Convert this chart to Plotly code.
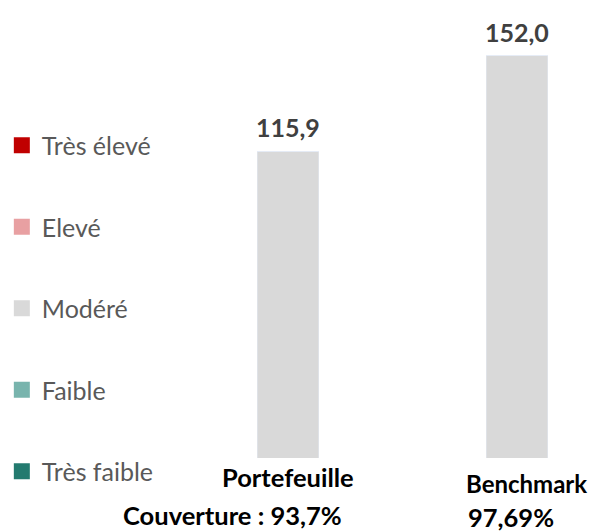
import plotly.graph_objects as go

categories = ["Portefeuille", "Benchmark"]
coverage_labels = ["Couverture : 93,7%", "97,69%"]
levels = ["Très faible", "Faible", "Modéré", "Elevé", "Très élevé"]
level_colors = ["#237A6F", "#78B4AD", "#D9D9D9", "#E8A0A2", "#C00000"]
values = {
    "Très faible": [0, 0],
    "Faible": [0, 0],
    "Modéré": [115.9, 152.0],
    "Elevé": [0, 0],
    "Très élevé": [0, 0],
}
totals = [sum(values[l][i] for l in levels) for i in range(len(categories))]

FONT = "Lato"
fig = go.Figure()
for lvl, col in zip(levels, level_colors):
    fig.add_trace(go.Bar(
        x=categories, y=values[lvl], name=lvl, marker_color=col,
        width=0.27, showlegend=False, hoverinfo="skip",
    ))
# legend entries (top = Très élevé)
for lvl, col in reversed(list(zip(levels, level_colors))):
    fig.add_trace(go.Scatter(
        x=[None], y=[None], mode="markers", name=lvl, legendgroup=lvl,
        marker=dict(symbol="square", size=16, color=col),
    ))

for i, (cat, tot) in enumerate(zip(categories, totals)):
    fig.add_annotation(x=cat, y=tot, xref="x", yref="y", yanchor="bottom",
                       yshift=7, showarrow=False,
                       text="<b>" + f"{tot:.1f}".replace(".", ",") + "</b>",
                       font=dict(family=FONT, size=25, color="#404040"))

CAT_FONT = dict(family=FONT, size=25.5, color="#000000")
fig.add_annotation(x=categories[0], y=0, xref="x", yref="paper", yanchor="middle",
                   yshift=-19, showarrow=False, text="<b>" + categories[0] + "</b>",
                   font=CAT_FONT)
fig.add_annotation(x=categories[0], y=0, xref="x", yref="paper", yanchor="middle",
                   xshift=-55, yshift=-57, showarrow=False, text="<b>" + coverage_labels[0] + "</b>",
                   font=CAT_FONT)
fig.add_annotation(x=categories[1], y=0, xref="x", yref="paper", yanchor="middle",
                   xanchor="right", xshift=72, yshift=-25, showarrow=False,
                   text="<b>" + categories[1] + "</b>",
                   font=dict(family=FONT, size=24, color="#000000"))
fig.add_annotation(x=categories[1], y=0, xref="x", yref="paper", yanchor="middle",
                   xanchor="left", xshift=-51, yshift=-59, showarrow=False,
                   text="<b>" + coverage_labels[1] + "</b>",
                   font=CAT_FONT)

fig.update_layout(
    width=591, height=523,
    margin=dict(l=162, r=0, t=0, b=73, autoexpand=False),
    barmode="stack",
    plot_bgcolor="white", paper_bgcolor="white",
    xaxis=dict(range=[-0.515, 1.358], showticklabels=False, showgrid=False,
               zeroline=False, showline=False, ticks=""),
    yaxis=dict(range=[0, 170.1], visible=False),
    legend=dict(xref="paper", yref="container", x=-0.392, y=0.781,
                xanchor="left", yanchor="top",
                traceorder="grouped", tracegroupgap=46,
                itemsizing="trace", maxheight=1.0,
                font=dict(family=FONT, size=25, color="#595959"),
                bgcolor="rgba(0,0,0,0)"),
    showlegend=True,
)

fig.write_html("out.html")
